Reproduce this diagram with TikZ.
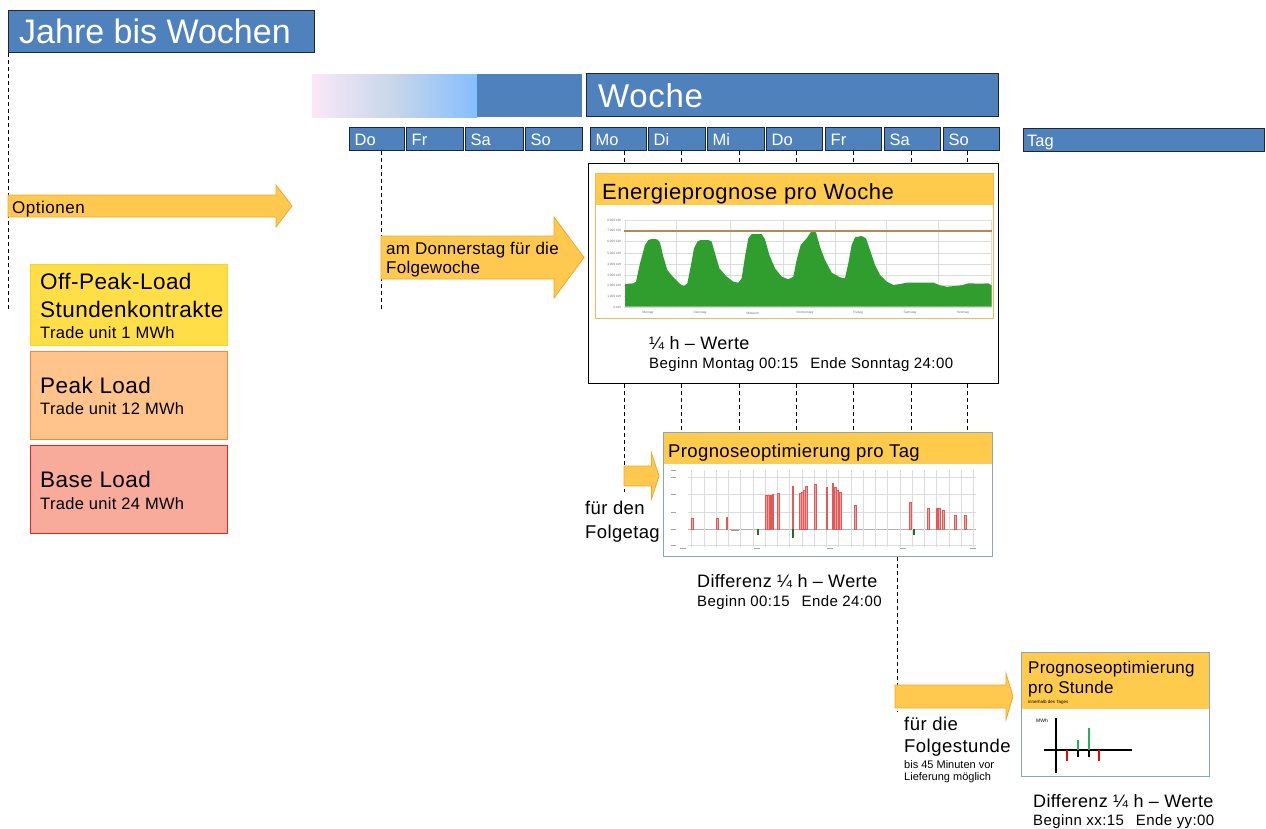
\documentclass[tikz,border=0pt]{standalone}
\usepackage{fontspec}
\setmainfont{Liberation Sans}
\usetikzlibrary{calc}
\definecolor{wkblue}{HTML}{4F81BD}
\definecolor{edgedark}{HTML}{1E2630}
\definecolor{arrfill}{HTML}{FFC94F}
\definecolor{arrdraw}{HTML}{F5A623}
\definecolor{headfill}{HTML}{FFCB4C}
\definecolor{offfill}{HTML}{FFDE47}
\definecolor{offdraw}{HTML}{FFD21F}
\definecolor{peakfill}{HTML}{FFC48C}
\definecolor{peakdraw}{HTML}{F28A34}
\definecolor{basefill}{HTML}{F9AB9B}
\definecolor{basedraw}{HTML}{DC2A22}
\definecolor{frameblue}{HTML}{8EA4B8}
\definecolor{plotgreen}{HTML}{2F9E2F}
\definecolor{plotbrown}{HTML}{B88A52}
\definecolor{gridgrey}{HTML}{DCDCDC}
\definecolor{barfill}{HTML}{F4A0A0}
\definecolor{bardraw}{HTML}{E05A5A}
\definecolor{gradpink}{HTML}{FAE8F8}
\definecolor{gradmid}{HTML}{C6D6EA}
\definecolor{gradlight}{HTML}{85BEFF}
% font size and tracking helpers
\newcommand\fsz[1]{\fontsize{#1}{#1}\selectfont}
\newcommand\fszl[2]{\fontsize{#1}{#1}\selectfont\addfontfeature{LetterSpace=#2}}
\newcommand\blockarr[6]{%
  \draw[arrowbox] (#1,#4-#5) -- (#2,#4-#5) -- (#2,#4-#6) -- (#3,#4)
    -- (#2,#4+#6) -- (#2,#4+#5) -- (#1,#4+#5) -- cycle;}
\tikzset{
  txt/.style={inner sep=0pt, anchor=base west},
  bluebox/.style={draw=edgedark, fill=wkblue, line width=1pt, inner sep=0pt, anchor=north west},
  daybox/.style={bluebox, minimum height=23pt},
  arrowbox/.style={fill=arrfill, draw=arrdraw, line width=0.8pt, line join=miter},
  dline/.style={draw=black, line width=1pt, dash pattern=on 4pt off 3pt},
  chartbox/.style={draw=frameblue, line width=1.3pt, fill=white, inner sep=0pt, anchor=north west},
  header/.style={fill=headfill, inner sep=0pt, anchor=north west},
  loadbox/.style={line width=1pt, inner sep=0pt, anchor=north west, minimum width=197pt},
  tiny/.style={inner sep=0pt, text=black!55, font=\fsz{3.2}},
  labeldash/.style={draw=black!35, line width=0.9pt},
  bar/.style={fill=barfill, draw=bardraw, line width=0.3pt},
  negbar/.style={fill=plotgreen!60, draw=plotgreen!70!black, line width=0.3pt},
  bigload/.style={txt, font=\fszl{22.5}{2}},
  unitload/.style={txt, font=\fszl{16.5}{2}},
  wertetxt/.style={txt, font=\fszl{18}{2}},
  spantxt/.style={txt, font=\fszl{15}{2.7}},
}
\begin{document}
\begin{tikzpicture}[x=1pt, y=-1pt]
\useasboundingbox (0,0) rectangle (1266,828);

% ---------- period headers ----------
\node[bluebox, minimum width=306pt, minimum height=42pt] (jahre) at (8,10) {};
\node[txt, font=\fsz{34}, text=white] (jahreT) at (19,43) {Jahre bis Wochen};

\shade[left color=gradpink, right color=gradmid] (312,74) rectangle (395,117);
\shade[left color=gradmid, right color=gradlight] (395,74) rectangle (477,117);
\fill[wkblue] (477,74) rectangle (582,117);

\node[bluebox, minimum width=412pt, minimum height=43pt] (woche) at (586,73) {};
\node[txt, font=\fszl{33}{2}, text=white] (wocheT) at (598,107) {Woche};

\foreach \n/\l/\a/\w in {d1/Do/349/55, d2/Fr/406/57, d3/Sa/465/58, d4/So/525/57,
    mo/Mo/590/56, di/Di/648/57, mi/Mi/707/57, don/Do/766/56, fr/Fr/825/56, sa/Sa/884/56, so/So/943/56}{
  \node[daybox, minimum width=\w pt] (\n) at (\a,127) {};
  \node[txt, font=\fsz{16.5}, text=white] (\n T) at (\a+5.5,145) {\l};
}
\node[daybox, minimum width=241pt] (tag) at (1023,128) {};
\node[txt, font=\fsz{16.5}, text=white] (tagT) at (1027,146) {Tag};

% ---------- left column ----------
\coordinate (jahreEnd) at (8,310);
\draw[dline] (jahre.south west) -- (jahreEnd);

\blockarr{8}{276}{292}{206}{11}{21}
\node[txt, font=\fszl{17}{3}] (optT) at (12,213) {Optionen};

\node[loadbox, fill=offfill, draw=offdraw, minimum height=81pt] (off) at (30,264) {};
\node[bigload] (offT1) at (40,289) {Off-Peak-Load};
\node[bigload] (offT2) at (40,317) {Stundenkontrakte};
\node[unitload] (offT3) at (40,338) {Trade unit 1 MWh};

\node[loadbox, fill=peakfill, draw=peakdraw, minimum height=88pt] (peak) at (30,351) {};
\node[bigload] (peakT1) at (40,393) {Peak Load};
\node[unitload] (peakT2) at (40,414) {Trade unit 12 MWh};

\node[loadbox, fill=basefill, draw=basedraw, minimum height=88pt] (base) at (30,445) {};
\node[bigload] (baseT1) at (40,487) {Base Load};
\node[unitload] (baseT2) at (40,509) {Trade unit 24 MWh};

% ---------- Thursday: weekly forecast ----------
\coordinate (tD1) at (381.5,0);
\coordinate (d1End) at (381.5,310);
\draw[dline] (tD1 |- d1.south) -- (d1End);
\blockarr{381}{554}{584}{257.5}{21.5}{40.5}
\node[txt, font=\fszl{17}{1.5}] (donT1) at (386,254) {am Donnerstag für die};
\node[txt, font=\fszl{17}{1.5}] (donT2) at (386,273) {Folgewoche};

% weekly chart frame
\node[draw=black, line width=1.2pt, fill=white, inner sep=0pt, anchor=north west,
      minimum width=410pt, minimum height=220pt] (wk) at (588,163) {};
\node[header, minimum width=398pt, minimum height=32pt] (wkHead) at (595,173) {};
\node[txt, font=\fszl{22}{2.5}] (wkHeadT) at (602,199) {Energieprognose pro Woche};

% weekly load curve
\foreach \y in {220,230.7,241.7,253,264,275,285.7,296,307}
  \draw[gridgrey, line width=0.5pt] (624,\y) -- (992,\y);
\foreach \x in {625,676.7,730,783.3,835,886.7,938.3,991.7}
  \draw[gridgrey, line width=0.5pt] (\x,220) -- (\x,307);
\begin{scope}[shift={(580,160)}, scale=1/3]
\fill[plotgreen] (135,440) -- (135,372) -- (160,370) -- (168,365) -- (180,310) -- (195,255)
  -- (205,240) -- (215,237) -- (232,238) -- (240,248) -- (250,290) -- (262,330) -- (280,352)
  -- (300,372) -- (312,378) -- (322,370) -- (332,320) -- (342,265) -- (352,245) -- (362,240)
  -- (385,240) -- (395,245) -- (405,280) -- (418,325) -- (440,350) -- (460,365) -- (475,368)
  -- (485,355) -- (495,290) -- (505,235) -- (515,222) -- (545,222) -- (555,238) -- (568,285)
  -- (585,325) -- (605,350) -- (625,358) -- (640,350) -- (650,300) -- (662,255) -- (680,235)
  -- (695,213) -- (708,217) -- (720,260) -- (735,300) -- (755,338) -- (780,352) -- (795,355)
  -- (805,310) -- (815,255) -- (825,232) -- (845,228) -- (858,235) -- (870,270) -- (885,315)
  -- (900,345) -- (920,365) -- (940,375) -- (960,372) -- (980,368) -- (1060,368) -- (1080,376)
  -- (1100,380) -- (1125,378) -- (1145,376) -- (1165,370) -- (1200,371) -- (1225,370)
  -- (1235,376) -- (1235,440) -- cycle;
\end{scope}
\draw[plotbrown, line width=2.2pt] (624,230.7) -- (992,230.7);
\foreach \y/\v in {220/8.000 kW,230.7/7.000 kW,241.7/6.000 kW,253/5.000 kW,264/4.000 kW,
    275/3.000 kW,285.7/2.000 kW,296/1.000 kW,307/0 kW}
  \node[tiny, anchor=east] at (621,\y) {\v};
\foreach \x/\v in {648/Montag,700/Dienstag,753/Mittwoch,805/Donnerstag,858/Freitag,910/Samstag,963/Sonntag}
  \node[tiny] at (\x,313) {\v};
\draw[arrdraw!80, line width=0.7pt] (595,173) rectangle (993,318);

\node[wertetxt] (wkT1) at (649,349) {¼ h – Werte};
\node[spantxt] (wkT2) at (649,368) {Beginn Montag 00:15\hspace{0.8em}Ende Sonntag 24:00};

% ---------- daily optimisation ----------
\node[chartbox, minimum width=329pt, minimum height=124pt] (tg) at (663,432) {};
\node[header, minimum width=328pt, minimum height=31pt] (tgHead) at (663.5,432.5) {};
\node[txt, font=\fszl{18.5}{2}] (tgHeadT) at (668,457) {Prognoseoptimierung pro Tag};

\foreach \n/\t in {mo/624,di/681.5,mi/739,don/796,fr/853.5,sa/911,so/967}{
  \coordinate (t\n) at (\t,0);
  \draw[dline] (t\n |- \n.south) -- (t\n |- wk.north);
}
\foreach \n in {di,mi,don,fr,sa,so}
  \draw[dline] (t\n |- wk.south) -- (t\n |- tg.north);
\coordinate (moEnd) at (624,492);
\draw[dline] (tmo |- wk.south) -- (moEnd);

% daily difference chart
\foreach \y in {477,494,512,545}
  \draw[gridgrey, line width=0.5pt] (688,\y) -- (976,\y);
\draw[black!30, line width=0.5pt] (688,529) -- (976,529);
\foreach \i in {0,...,23}
  \draw[gridgrey, line width=0.5pt] (691.7+\i*12.24,470) -- (691.7+\i*12.24,547);
\foreach \y in {470,477,494,512,529,545}
  \draw[labeldash] (671,\y) -- (676,\y);
\foreach \x in {683,757,830,903,973}
  \draw[labeldash] (\x-3,548.5) -- (\x+3,548.5);
\begin{scope}[shift={(660,460)}, scale=1/3]
\foreach \x/\t in {97/175,172/175,200/172,318/105,325/105,332/105,338/103,355/98,398/78,
    420/98,427/95,432/90,438/78,465/73,500/80,518/68,525/80,532/90,540/95,585/135,
    750/125,805/145,830/143,838/145,850/150,885/165,915/165}
  \draw[bar] (\x-2.5,\t) rectangle (\x+2.5,208);
\foreach \x/\b in {293/222,398/232,760/222}
  \draw[negbar] (\x-2,208) rectangle (\x+2,\b);
\fill[black!40] (212,209) rectangle (236,212);
\end{scope}

\blockarr{624}{651.5}{659}{476}{10}{23}
\node[txt, font=\fszl{18.5}{2}] (tgArrT1) at (585,514) {für den};
\node[txt, font=\fszl{18.5}{2}] (tgArrT2) at (585,538) {Folgetag};

\node[wertetxt] (tgT1) at (697,587) {Differenz ¼ h – Werte};
\node[spantxt] (tgT2) at (697,606) {Beginn 00:15\hspace{0.8em}Ende 24:00};

% ---------- hourly optimisation ----------
\coordinate (tgLine) at (897,0);
\coordinate (tgEnd) at (897,712);
\draw[dline] (tgLine |- tg.south) -- (tgEnd);
\blockarr{895}{1006}{1013}{696.5}{11.5}{23}
\node[txt, font=\fszl{18.5}{2.5}] (stArrT1) at (904,730) {für die};
\node[txt, font=\fszl{18.5}{2.5}] (stArrT2) at (904,752) {Folgestunde};
\node[txt, font=\fsz{11}] (stArrT3) at (904,768) {bis 45 Minuten vor};
\node[txt, font=\fsz{11}] (stArrT4) at (904,780) {Lieferung möglich};

\node[chartbox, minimum width=188pt, minimum height=124pt] (st) at (1021,652) {};
\node[header, minimum width=187pt, minimum height=56pt] (stHead) at (1021.5,652.5) {};
\node[txt, font=\fszl{17}{1.6}] (stHeadT1) at (1028,673) {Prognoseoptimierung};
\node[txt, font=\fszl{17}{1.6}] (stHeadT2) at (1028,693) {pro Stunde};
\node[txt, font=\fsz{4.5}] (stHeadT3) at (1028,703) {innerhalb des Tages};

\node[txt, font=\fsz{5}] (mwh) at (1036,722) {MWh};
\draw[black, line width=1.6pt] (1056,718) -- (1056,773);
\draw[black, line width=1.6pt] (1044,750) -- (1132,750);
\draw[red, line width=1.6pt] (1067,750) -- (1067,761);
\draw[black, line width=1.6pt] (1078,750) -- (1078,757);
\draw[plotgreen!80!cyan, line width=1.6pt] (1078,740) -- (1078,750);
\draw[black, line width=1.6pt] (1089,750) -- (1089,757);
\draw[plotgreen!80!cyan, line width=1.6pt] (1089,728) -- (1089,750);
\draw[red, line width=1.6pt] (1099,750) -- (1099,761);

\node[wertetxt] (stT1) at (1033,807) {Differenz ¼ h – Werte};
\node[spantxt] (stT2) at (1033,825) {Beginn xx:15\hspace{0.8em}Ende yy:00};
\end{tikzpicture}
\end{document}
